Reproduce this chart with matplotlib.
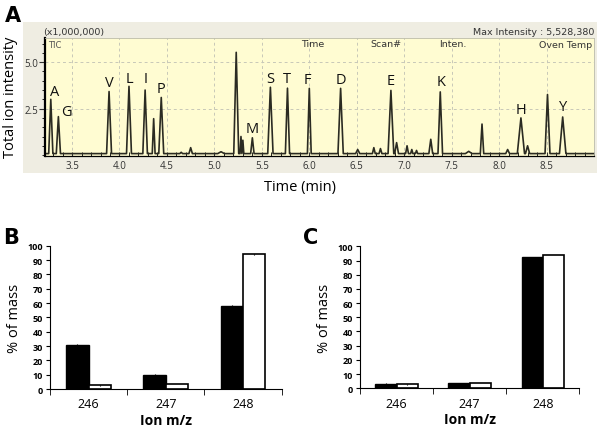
import matplotlib.pyplot as plt
from matplotlib.ticker import MultipleLocator

plt.rcParams['font.family'] = ['Open Sans', 'DejaVu Sans']

# chromatogram peaks: retention time (min), height (x1,000,000), half width (min)
peak_t = [3.276, 3.356, 3.89, 4.10, 4.27, 4.36, 4.44, 4.65, 4.75, 5.07,
          5.23, 5.28, 5.30, 5.40, 5.59, 5.77, 6.00, 6.33, 6.51, 6.68,
          6.75, 6.86, 6.92, 7.03, 7.08, 7.13, 7.28, 7.38, 7.68, 7.82,
          8.09, 8.23, 8.30, 8.51, 8.67]
peak_h = [3.0, 2.07, 3.42, 3.7, 3.5, 1.96, 3.1, 0.15, 0.4, 0.18,
          5.53, 1.0, 0.8, 0.93, 3.65, 3.6, 3.59, 3.59, 0.3, 0.4,
          0.35, 3.48, 0.67, 0.5, 0.3, 0.25, 0.85, 3.4, 0.2, 1.67,
          0.3, 2.0, 0.5, 3.26, 2.05]
peak_w = [0.022, 0.022, 0.026, 0.026, 0.024, 0.015, 0.026, 0.015, 0.018, 0.035,
          0.026, 0.01, 0.01, 0.018, 0.028, 0.022, 0.02, 0.028, 0.022, 0.015,
          0.015, 0.03, 0.02, 0.015, 0.012, 0.012, 0.02, 0.024, 0.035, 0.018,
          0.02, 0.038, 0.022, 0.026, 0.034]
baseline = 0.08

# amino acid labels on the chromatogram
lab_txt = ['A', 'G', 'V', 'L', 'I', 'P', 'M', 'S', 'T', 'F', 'D', 'E', 'K', 'H', 'Y']
lab_t = [3.32, 3.444, 3.89, 4.10, 4.28, 4.44, 5.40, 5.59, 5.76, 5.98, 6.33, 6.86, 7.39, 8.23, 8.67]
lab_y = [3.44, 2.35, 3.9, 4.13, 4.13, 3.57, 1.45, 4.13, 4.13, 4.08, 4.08, 4.02, 3.98, 2.45, 2.59]

# isotope distributions
ions = ['246', '247', '248']
b_black = [31, 10, 58]
b_white = [2.5, 3.5, 94]
c_black = [3.3, 3.5, 92.3]
c_white = [2.8, 3.8, 93.8]

fig = plt.figure(figsize=(6, 4.31), dpi=100)

# ---- panel A ----
bg = fig.add_axes([0.0383, 0.5963, 0.9567, 0.3503], zorder=0)
bg.set_facecolor('#efede2')
bg.set_xticks([])
bg.set_yticks([])
for sp in bg.spines.values():
    sp.set_visible(False)

ax = fig.add_axes([0.075, 0.6357, 0.915, 0.2738], zorder=1)
ax.set_facecolor('#fffcd2')

xs = [3.215]
ys = [baseline]
for t, h, w in zip(peak_t, peak_h, peak_w):
    xs += [t - w, t, t + w]
    ys += [baseline, h, baseline]
xs.append(9.0)
ys.append(baseline)
ax.plot(xs, ys, color='#2b2b22', lw=1.2)

for s, t, y in zip(lab_txt, lab_t, lab_y):
    ax.text(t, y, s, ha='center', va='center', fontsize=10.5, color='#111111')

ax.set_xlim(3.215, 9.0)
ax.set_ylim(-0.05, 6.3)
ax.set_xticks([3.5, 4.0, 4.5, 5.0, 5.5, 6.0, 6.5, 7.0, 7.5, 8.0, 8.5])
ax.set_yticks([2.5, 5.0])
ax.yaxis.set_major_formatter(plt.FuncFormatter(lambda v, p: '%.1f' % v))
ax.xaxis.set_minor_locator(MultipleLocator(0.1))
ax.yaxis.set_minor_locator(MultipleLocator(0.5))
ax.tick_params(axis='both', labelsize=7, labelcolor='#333333', colors='#333333')
ax.tick_params(axis='x', which='both', direction='in', length=3, pad=3)
ax.tick_params(axis='y', which='major', direction='out', length=4, pad=1)
ax.tick_params(axis='y', which='minor', direction='out', length=2)
ax.grid(True, color='#c8c8b8', ls=(0, (3, 3)), lw=0.7)
for side in ['top', 'right']:
    ax.spines[side].set_color('#bbbbaa')
    ax.spines[side].set_linewidth(0.6)
ax.spines['left'].set_linewidth(1.6)
ax.spines['bottom'].set_linewidth(0.9)

ax.text(0.005, 0.985, 'TIC', transform=ax.transAxes, fontsize=6, color='#555555',
        ha='left', va='top', family='DejaVu Sans')
for s, xp in zip(['Time', 'Scan#', 'Inten.'], [5.91, 6.64, 7.37]):
    ax.text(xp, 6.25, s, fontsize=6.8, color='#333333', ha='left', va='top',
            family='DejaVu Sans')
ax.text(0.997, 0.985, 'Oven Temp', transform=ax.transAxes, fontsize=6.8,
        color='#333333', ha='right', va='top', family='DejaVu Sans')
ax.text(-0.003, 1.015, '(x1,000,000)', transform=ax.transAxes, fontsize=6.8,
        color='#333333', ha='left', va='bottom', family='DejaVu Sans')
ax.text(1.0, 1.015, 'Max Intensity : 5,528,380', transform=ax.transAxes, fontsize=6.8,
        color='#333333', ha='right', va='bottom', family='DejaVu Sans')

fig.text(0.5, 0.565, 'Time (min)', ha='center', va='center', fontsize=10.5)
fig.text(0.018, 0.775, 'Total ion intensity', ha='center', va='center',
         rotation=90, fontsize=10.5)
fig.text(0.008, 0.985, 'A', ha='left', va='top', fontsize=15, fontweight='bold',
         family='DejaVu Sans')


# ---- panels B and C ----
def bars(pos, black, white, letter, lpos):
    a = fig.add_axes(pos)
    x = list(range(len(ions)))
    bw = 0.29
    a.bar([i - bw / 2 for i in x], black, bw, color='black', edgecolor='black', lw=1,
          yerr=[0.5] * 3, error_kw=dict(lw=0.8, capsize=0, ecolor='black'))
    a.bar([i + bw / 2 for i in x], white, bw, color='white', edgecolor='black', lw=1.2,
          yerr=[0.2] * 3, error_kw=dict(lw=0.8, capsize=0, ecolor='black'))
    a.set_xlim(-0.5, 2.5)
    a.set_ylim(0, 100)
    a.set_yticks(range(0, 101, 10))
    a.set_xticks(x)
    a.set_xticklabels(ions)
    a.set_xticks([-0.5, 0.5, 1.5, 2.5], minor=True)
    a.tick_params(axis='x', which='major', length=0, labelsize=9, pad=6)
    a.tick_params(axis='x', which='minor', length=4, direction='out')
    a.tick_params(axis='y', labelsize=6.5, length=3, pad=2)
    for lab in a.get_yticklabels():
        lab.set_fontweight('bold')
    a.spines['top'].set_visible(False)
    a.spines['right'].set_visible(False)
    a.set_ylabel('% of mass', fontsize=10.5, labelpad=4)
    a.set_xlabel('Ion m/z', fontsize=10, fontweight='bold', labelpad=2)
    fig.text(lpos[0], lpos[1], letter, ha='left', va='center', fontsize=15,
             fontweight='bold', family='DejaVu Sans')
    return a


bars([0.0833, 0.0951, 0.3862, 0.3325], b_black, b_white, 'B', (0.005, 0.448))
bars([0.6, 0.0968, 0.3655, 0.3294], c_black, c_white, 'C', (0.505, 0.448))

plt.savefig('out.png', dpi=100)
